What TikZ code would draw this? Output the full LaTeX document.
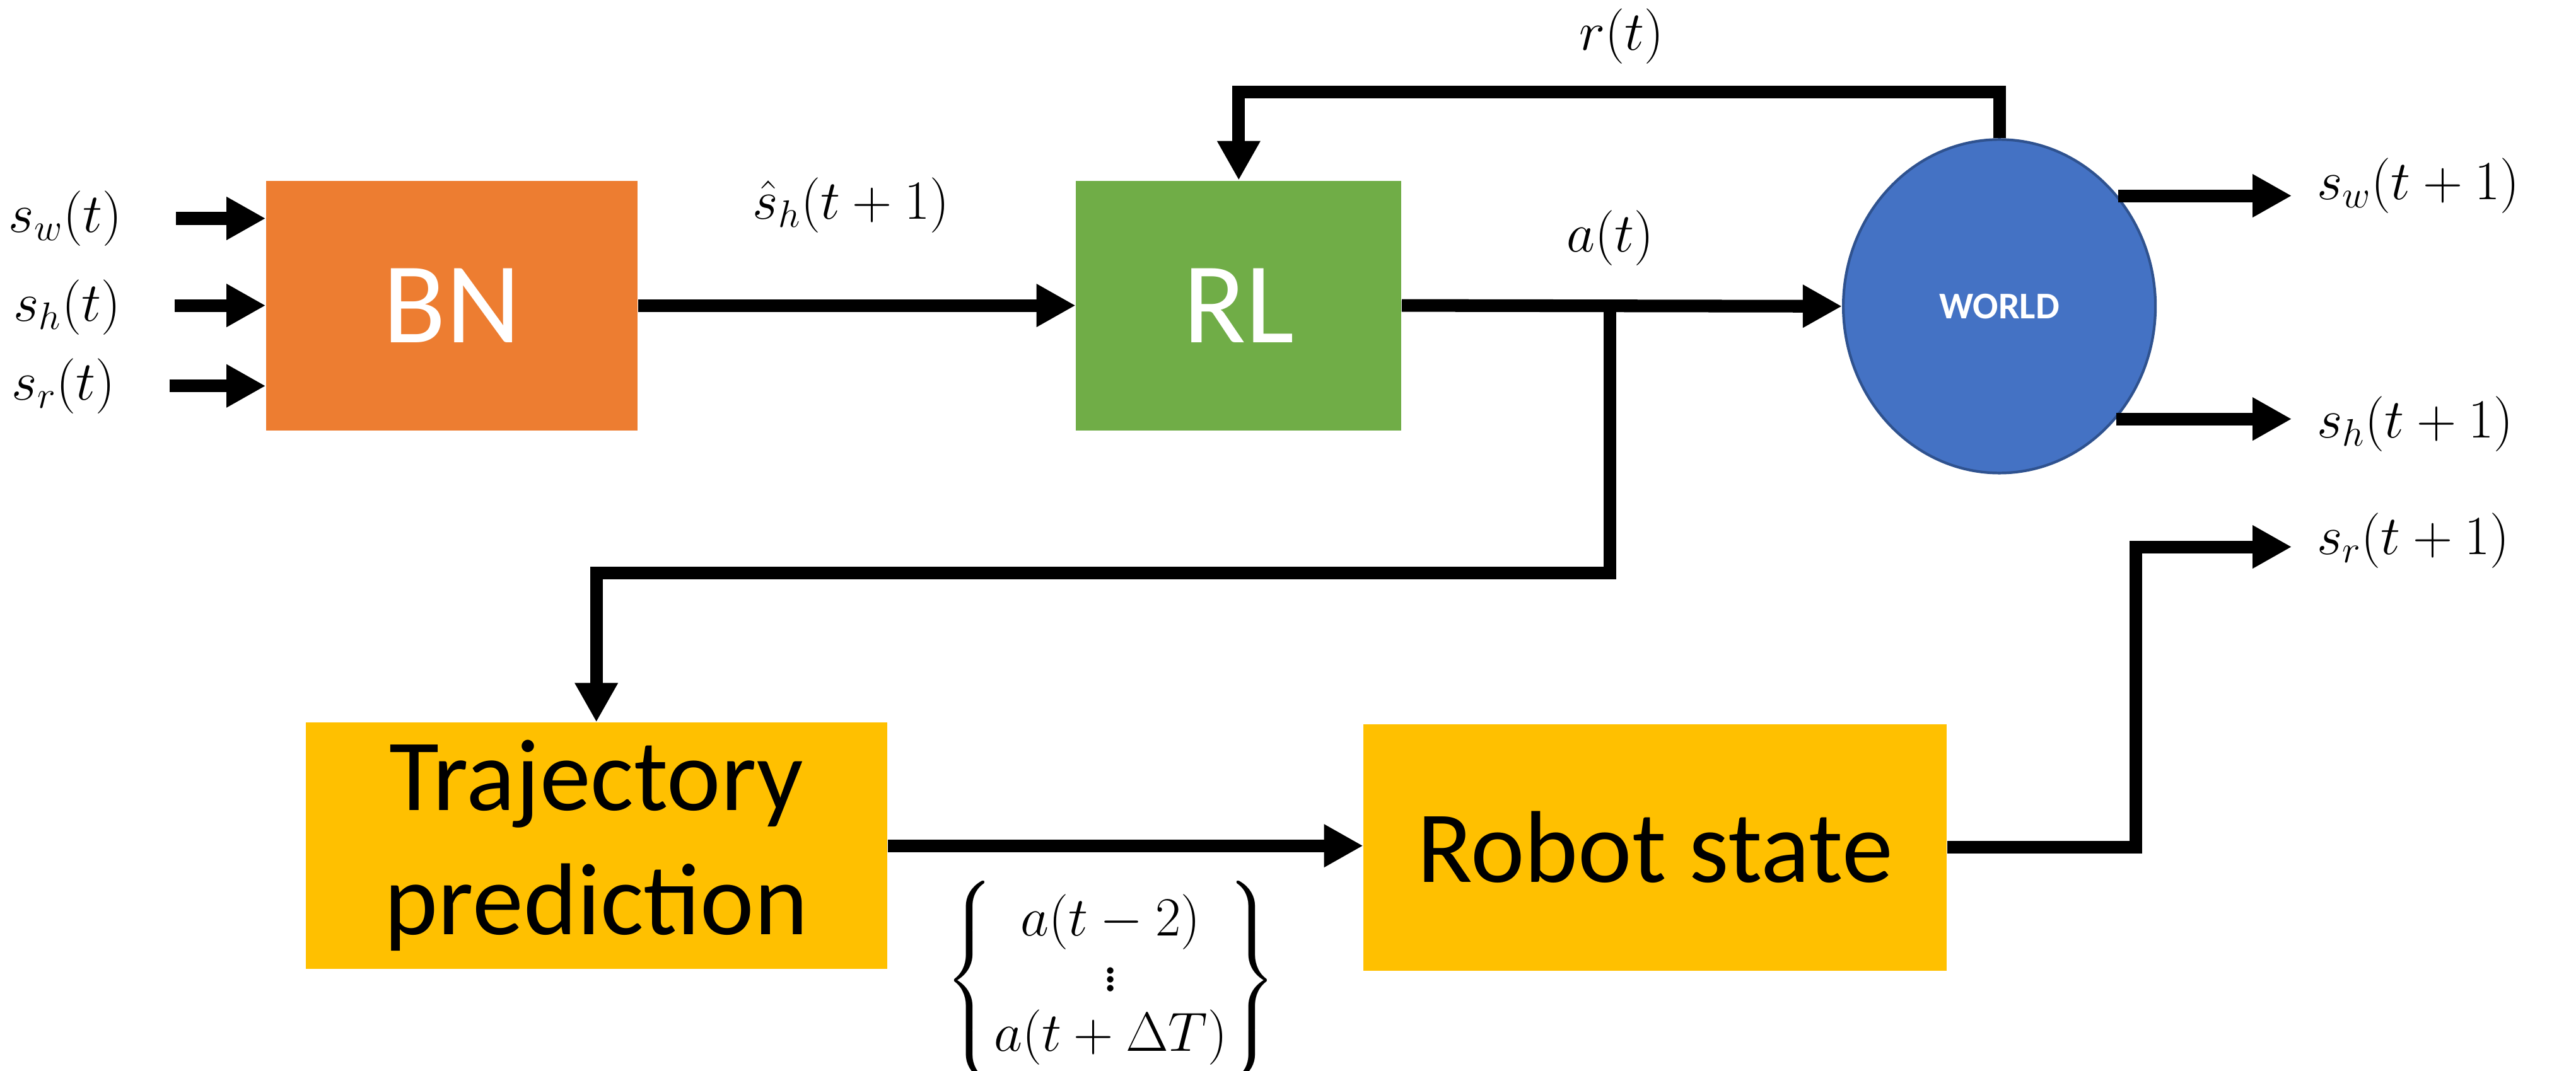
\documentclass[tikz,border=0pt]{standalone}
\usepackage{amsmath}
\usepackage{fontspec}
\setmainfont{Carlito}
\usetikzlibrary{arrows.meta,shapes.geometric}
\definecolor{bnor}{HTML}{ED7D31}
\definecolor{rlgr}{HTML}{70AD47}
\definecolor{wblue}{HTML}{4472C4}
\definecolor{wedge}{HTML}{2F528F}
\definecolor{ygold}{HTML}{FFC000}
\tikzset{
  arr/.style={line width=0.2cm,-{Triangle[length=0.62cm,width=0.64cm]}},
  blk/.style={rectangle,draw=none,inner sep=0pt,align=center,font=\fontsize{46}{56}\selectfont},
  lab/.style={inner sep=0pt,font=\fontsize{24}{29}\selectfont},
}
\begin{document}
\begin{tikzpicture}[x=0.026cm,y=-0.026cm]
\useasboundingbox (0,0) rectangle (1568,652);
% blocks
\node[blk,fill=bnor,text=white,minimum width=5.876cm,minimum height=3.952cm,font=\fontsize{52}{60}\selectfont] (BN) at (275,186) {BN};
\node[blk,fill=rlgr,text=white,minimum width=5.148cm,minimum height=3.952cm,font=\fontsize{52}{60}\selectfont] (RL) at (754,186) {RL};
\node[ellipse,draw=wedge,line width=1.2pt,fill=wblue,minimum width=4.94cm,minimum height=5.28cm,inner sep=0pt,text=white,font=\fontsize{17}{20}\selectfont\bfseries] (W) at (1217,186.5) {WORLD};
\node[blk,fill=ygold,minimum width=9.204cm,minimum height=3.9cm] (TP) at (363,515) {Trajectory\\prediction};
\node[blk,fill=ygold,minimum width=9.23cm,minimum height=3.9cm] (RS) at (1007.5,516) {Robot state};
% input labels
\node[lab,anchor=west] (sw) at (5,133) {$s_w(t)$};
\node[lab,anchor=west] (sh) at (8,187) {$s_h(t)$};
\node[lab,anchor=west] (sr) at (7,235) {$s_r(t)$};
\draw[arr] ([xshift=0.85cm]sw.east) -- (sw -| BN.west);
\draw[arr] ([xshift=0.85cm]sh.east |- BN.west) -- (BN.west);
\draw[arr] ([xshift=0.85cm]sr.east) -- (sr -| BN.west);
% main chain
\draw[arr] (BN.east) -- (RL.west);
\node[lab] (shat) at (518,125) {$\hat{s}_h(t+1)$};
\draw[arr] (RL.east) -- (W.west);
\node[lab] (at) at (980,145) {$a(t)$};
% feedback
\draw[arr] (W.north) -- ++(0,-28) -| (RL.north);
\node[lab] (rt) at (987,22) {$r(t)$};
% branch to trajectory
\coordinate (br) at (980,186);
\draw[arr] (br) -- (980,349) -| (TP.north);
\draw[arr] (TP.east) -- (RS.west |- TP.east);
\node[lab] (brace) at (676,597) {$\left\{\begin{matrix} a(t-2)\\[-4pt] \vdots\\[-2pt] a(t+\Delta T)\end{matrix}\right\}$};
% outputs
\node[lab,anchor=west] (sw1) at (1410,113) {$s_w(t+1)$};
\node[lab,anchor=west] (sh1) at (1410,258) {$s_h(t+1)$};
\node[lab,anchor=west] (sr1) at (1410,329) {$s_r(t+1)$};
\draw[arr,shorten >=0.39cm] (W.43) -- (W.43 -| sw1.west);
\draw[arr,shorten >=0.39cm] (W.-44) -- (W.-44 -| sh1.west);
\draw[arr,shorten >=0.39cm] (RS.east) -- (1300,516) -- (1300,333) -- (sr1.west |- 0,333);
\end{tikzpicture}
\end{document}
